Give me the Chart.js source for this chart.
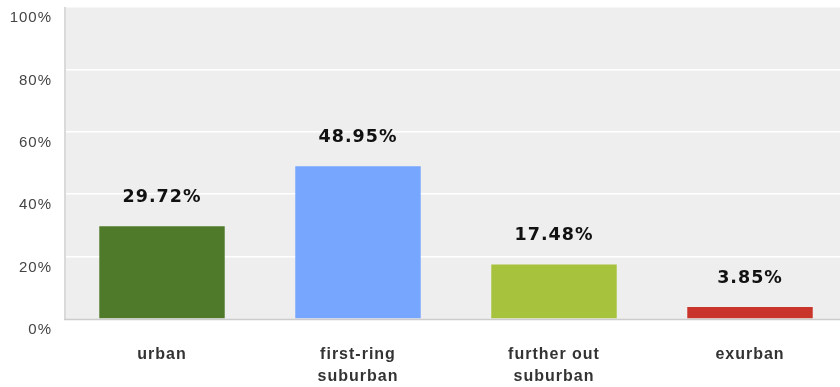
<!DOCTYPE html>
<html>
<head>
<meta charset="utf-8">
<script src="https://cdn.jsdelivr.net/npm/chart.js@4"></script>
<style>
  html, body { margin: 0; padding: 0; background: #fff; overflow: hidden; }
  #wrap { width: 850px; height: 387px; position: relative; }
</style>
</head>
<body>
<div id="wrap"><canvas id="c" width="850" height="387"></canvas></div>
<script>
const categories = [["urban"], ["first-ring", "suburban"], ["further out", "suburban"], ["exurban"]];
const shares = [29.72, 48.95, 17.48, 3.85];
const barColors = ["#4f7a2a", "#77a6ff", "#a7c23c", "#c9342b"];
const yTicks = [0, 20, 40, 60, 80, 100];

// Slightly spaced lettering for all text on the canvas
const spacing = {
  id: "spacing",
  beforeInit(chart) { chart.ctx.letterSpacing = "1px"; },
  beforeDraw(chart) { chart.ctx.letterSpacing = "1px"; }
};

// Plot background and frame lines
const plotFrame = {
  id: "plotFrame",
  beforeDraw(chart) {
    const { ctx, chartArea: a } = chart;
    ctx.save();
    ctx.fillStyle = "#eeeeee";
    ctx.fillRect(a.left, a.top, a.right - a.left, a.bottom - a.top);
    ctx.restore();
  },
  afterDatasetsDraw(chart) {
    const { ctx, chartArea: a } = chart;
    ctx.save();
    ctx.strokeStyle = "#dadada";
    ctx.lineWidth = 2;
    ctx.beginPath();
    ctx.moveTo(a.left + 1, a.top);
    ctx.lineTo(a.left + 1, a.bottom);
    ctx.stroke();
    ctx.strokeStyle = "#cccccc";
    ctx.lineWidth = 1.5;
    ctx.beginPath();
    ctx.moveTo(a.left, a.bottom + 0.5);
    ctx.lineTo(a.right, a.bottom + 0.5);
    ctx.stroke();
    ctx.restore();
  }
};

// Value labels above each bar
const valueLabels = {
  id: "valueLabels",
  afterDatasetsDraw(chart) {
    const { ctx } = chart;
    const meta = chart.getDatasetMeta(0);
    const data = chart.data.datasets[0].data;
    ctx.save();
    ctx.font = "bold 17.5px 'DejaVu Sans'";
    ctx.letterSpacing = "1px";
    ctx.fillStyle = "#111";
    ctx.textAlign = "center";
    ctx.textBaseline = "middle";
    meta.data.forEach((bar, i) => {
      ctx.fillText(data[i].toFixed(2) + "%", bar.x, bar.y - 29);
    });
    ctx.restore();
  }
};

new Chart(document.getElementById("c"), {
  type: "bar",
  data: {
    labels: categories,
    datasets: [{
      data: shares,
      backgroundColor: barColors,
      borderWidth: 0,
      categoryPercentage: 1,
      barPercentage: 0.64
    }]
  },
  options: {
    responsive: false,
    animation: false,
    layout: { padding: { top: 7, right: 2, left: 0, bottom: 0 } },
    plugins: { legend: { display: false }, tooltip: { enabled: false } },
    scales: {
      x: {
        grid: { display: false },
        border: { display: false },
        ticks: {
          color: "#333",
          font: { family: "'Liberation Sans', Arial", size: 16, weight: "bold", lineHeight: 1.375 },
          padding: 17,
          maxRotation: 0,
          autoSkip: false
        },
        afterFit(scale) {
          scale.height = 68;
          scale.paddingLeft = 0;
          scale.paddingRight = 0;
        }
      },
      y: {
        min: 0,
        max: 100,
        afterBuildTicks(scale) { scale.ticks = yTicks.map(v => ({ value: v })); },
        grid: {
          color: ctx => (ctx.tick && ctx.tick.value === 0 ? "rgba(0,0,0,0)" : "#ffffff"),
          lineWidth: 1.5,
          drawTicks: false
        },
        border: { display: false },
        ticks: {
          color: "#444",
          font: { family: "'Liberation Sans', Arial", size: 15 },
          padding: 12,
          labelOffset: 11,
          callback: v => v + "%"
        },
        afterFit(scale) {
          scale.width = 64;
          scale.paddingTop = 0;
          scale.paddingBottom = 0;
        }
      }
    }
  },
  plugins: [spacing, plotFrame, valueLabels]
});
</script>
</body>
</html>
